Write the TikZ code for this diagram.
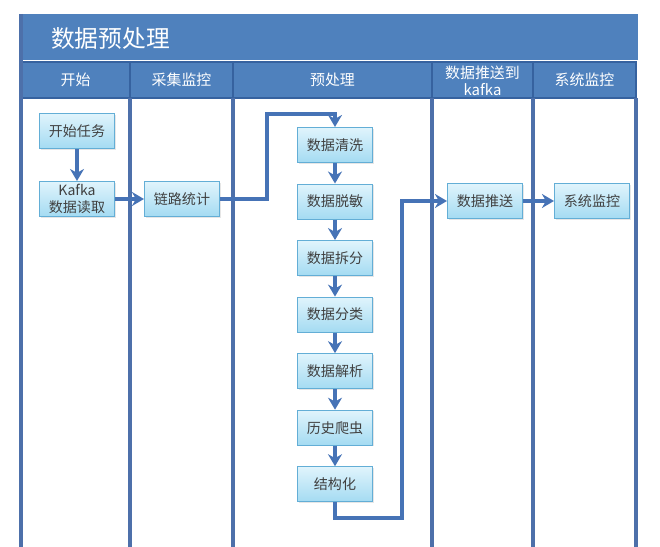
\documentclass[tikz,border=0pt]{standalone}
\usepackage{fontspec}
\setmainfont{Noto Sans CJK SC}
\usepackage{xcolor}
\usepackage{tikz}
\usetikzlibrary{arrows.meta, positioning, shadows}
\definecolor{barblue}{HTML}{4F81BD}
\definecolor{edgeblue}{HTML}{36629F}
\definecolor{laneblue}{HTML}{4D70AA}
\definecolor{arrblue}{HTML}{4673B6}
\definecolor{boxtop}{HTML}{E0F4FC}
\definecolor{boxbot}{HTML}{A4DBF2}
\definecolor{boxline}{HTML}{63AED6}

\begin{document}
\begin{tikzpicture}[x=0.02cm, y=-0.02cm,
        node distance=0.41cm,
        box/.style={draw=boxline, line width=0.6pt, top color=boxtop, bottom color=boxbot,
                    minimum width=1.5cm, minimum height=0.7cm, inner sep=1pt,
                    align=center, text=black!75,
                    font=\fontsize{8}{9.5}\selectfont,
                    drop shadow={opacity=0.2, shadow xshift=0.6pt, shadow yshift=-0.6pt}},
        headcell/.style={draw=edgeblue, fill=barblue, line width=1.4pt},
        headtext/.style={text=white, align=center, font=\fontsize{8.5}{9.5}\selectfont},
        lane/.style={draw=laneblue, line width=1.8pt},
        arr/.style={-{Stealth[length=2.4mm, width=2.8mm]}, line width=2pt, draw=arrblue}
      ]
        \useasboundingbox (0,0) rectangle (660,547);
        % title bar
        \fill[barblue] (19,14) rectangle (638,60);
        \node[text=white, anchor=west, font=\fontsize{13.5}{16}\selectfont] (title) at (45,39) {数据预处理};
        % lane headers
        \draw[headcell] (21,62) rectangle (130,98);
        \draw[headcell] (130,62) rectangle (233,98);
        \draw[headcell] (233,62) rectangle (432,98);
        \draw[headcell] (432,62) rectangle (533,98);
        \draw[headcell] (533,62) rectangle (636,98);
        \node[headtext] (hstart)   at (75.5,80)  {开始};
        \node[headtext] (hcollect) at (181.5,80) {采集监控};
        \node[headtext] (hpre)     at (332.5,80) {预处理};
        \node[headtext] (hpush)    at (482.5,81) {数据推送到\\kafka};
        \node[headtext] (hmon)     at (584.5,80) {系统监控};
        % lanes
        \foreach \x in {130,233,432,533,636}
          \draw[lane] (\x,98) -- (\x,547);
        \draw[lane, line width=2.6pt] (21,14) -- (21,547);

        \node[box] (start)    at (77,131)  {开始任务};
        \node[box] (kafka)    at (77,199)  {Kafka\\数据读取};
        \node[box] (linkstat) at (182,199) {链路统计};
        \node[box] (clean)    at (335,145) {数据清洗};
        \node[box] (mask)     [below=of clean]    {数据脱敏};
        \node[box] (split)    [below=of mask]     {数据拆分};
        \node[box] (classify) [below=of split]    {数据分类};
        \node[box] (parse)    [below=of classify] {数据解析};
        \node[box] (crawl)    [below=of parse]    {历史爬虫};
        \node[box] (struct)   [below=of crawl]    {结构化};
        \node[box] (push)     at (485,201) {数据推送};
        \node[box] (sysmon)   at (592,201) {系统监控};

        \coordinate (upbend)   at (267,114);
        \coordinate (backbend) at (402,518);

        \draw[arr] (start) -- (kafka);
        \draw[arr] (kafka) -- (linkstat);
        \draw[arr] (linkstat.east) -| (upbend) -| (clean.north);
        \foreach \a/\b in {clean/mask, mask/split, split/classify,
                           classify/parse, parse/crawl, crawl/struct}
          \draw[arr] (\a) -- (\b);
        \draw[arr] (struct.south) |- (backbend) |- (push.west);
        \draw[arr] (push) -- (sysmon);
      \end{tikzpicture}
\end{document}
